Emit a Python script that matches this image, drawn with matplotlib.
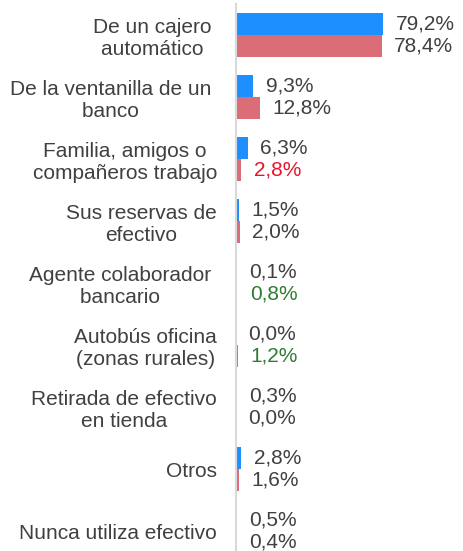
import matplotlib
matplotlib.use("Agg")
import matplotlib.pyplot as plt
import numpy as np

plt.rcParams['font.family'] = ['Liberation Sans', 'DejaVu Sans']

categories = [
    "De un cajero \nautomático ",
    "De la ventanilla de un \nbanco ",
    "Familia, amigos o\ncompañeros trabajo",
    "Sus reservas de\nefectivo",
    "Agente colaborador \nbancario ",
    "Autobús oficina\n(zonas rurales)",
    "Retirada de efectivo\nen tienda",
    "Otros",
    "Nunca utiliza efectivo",
]
serie_a = [79.2, 9.3, 6.3, 1.5, 0.1, 0.0, 0.3, 2.8, 0.5]
serie_b = [78.4, 12.8, 2.8, 2.0, 0.8, 1.2, 0.0, 1.6, 0.4]
color_b_labels = ['#404040', '#404040', '#E8142B', '#404040', '#2E7D32',
                  '#2E7D32', '#404040', '#404040', '#404040']

fig = plt.figure(figsize=(4.63, 5.51), dpi=100)
ax = fig.add_axes([236/463, 0, 1 - 236/463, 547/551])

y = np.arange(len(categories))
h = 0.355
ax.barh(y - h/2, serie_a, height=h, color='#1E8FFF')
ax.barh(y + h/2, serie_b, height=h, color='#DB6D79')

def fmt(v):
    return f"{v:.1f}".replace('.', ',') + '%'

for i in range(len(categories)):
    ax.annotate(fmt(serie_a[i]), (serie_a[i], y[i] - h/2), xytext=(9, 0),
                textcoords='offset points', va='center', ha='left',
                fontsize=15, color='#404040')
    ax.annotate(fmt(serie_b[i]), (serie_b[i], y[i] + h/2), xytext=(9, 0),
                textcoords='offset points', va='center', ha='left',
                fontsize=15, color=color_b_labels[i])

ax.set_xlim(0, 122.3)
ax.set_ylim(8.32, -0.5)
ax.set_yticks(y)
ax.set_yticklabels(categories, fontsize=15, color='#404040')
for lab in ax.get_yticklabels():
    lab.set_multialignment('center')
ax.tick_params(axis='y', length=0, pad=13.7)
ax.set_xticks([])
for s in ['top', 'right', 'bottom']:
    ax.spines[s].set_visible(False)
ax.spines['left'].set_color('#D9D9D9')
ax.spines['left'].set_linewidth(1.5)

fig.savefig('out.png', dpi=100)
